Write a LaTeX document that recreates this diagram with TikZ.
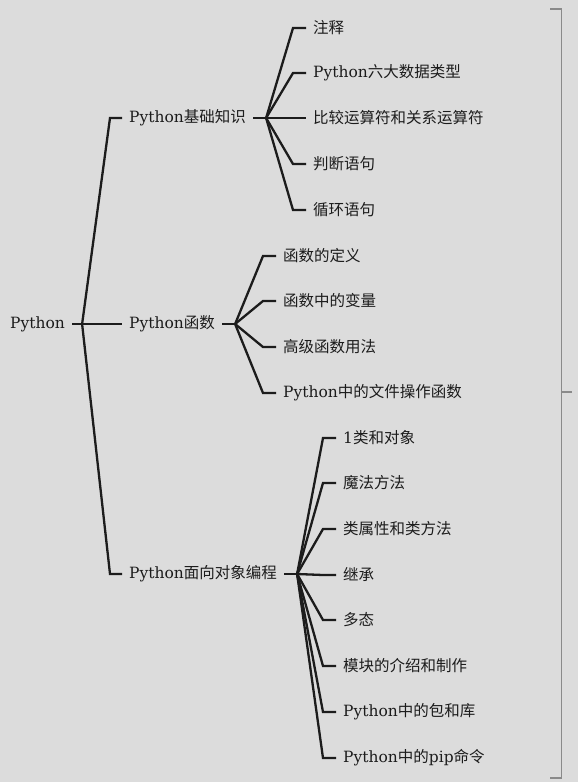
\documentclass[tikz,border=0pt]{standalone}
\usepackage{fontspec}
\setmainfont{Noto Sans CJK SC}
\newfontfamily\latin{DejaVu Serif}
\newcommand{\py}{{\latin Python}}
\definecolor{bg}{HTML}{DCDCDC}
\definecolor{ink}{HTML}{1C1C1C}
\definecolor{rim}{HTML}{8A8A8A}
\tikzset{
  topic/.style={anchor=west, inner xsep=7pt, inner ysep=2pt, text=ink, font=\fontsize{15.5}{18}\selectfont},
  branch/.style={draw=ink, line width=2.3pt},
}
\begin{document}
\begin{tikzpicture}[x=1pt,y=-1pt]
\fill[bg] (0,0) rectangle (578,782);
\useasboundingbox (0,0) rectangle (578,782);

\node[topic] (root) at (3,324) {\py};

\node[topic] (basic) at (122,118) {\py 基础知识};
\node[topic] (func) at (122,324) {\py 函数};
\node[topic] (oop) at (122,574) {\py 面向对象编程};

\node[topic] (note) at (306,28) {注释};
\node[topic] (types) at (306,73) {\py 六大数据类型};
\node[topic] (ops) at (306,118) {比较运算符和关系运算符};
\node[topic] (cond) at (306,164) {判断语句};
\node[topic] (loop) at (306,210) {循环语句};

\node[topic] (def) at (276,256) {函数的定义};
\node[topic] (var) at (276,301) {函数中的变量};
\node[topic] (adv) at (276,347) {高级函数用法};
\node[topic] (file) at (276,393) {\py 中的文件操作函数};

\node[topic] (cls) at (336,438) {{\latin 1}类和对象};
\node[topic] (magic) at (336,483) {魔法方法};
\node[topic] (attr) at (336,529) {类属性和类方法};
\node[topic] (inh) at (336,575) {继承};
\node[topic] (poly) at (336,620) {多态};
\node[topic] (mod) at (336,666) {模块的介绍和制作};
\node[topic] (pkg) at (336,712) {\py 中的包和库};
\node[topic] (pip) at (336,758) {\py 中的{\latin pip}命令};

% root
\draw[branch] (root.east) -- ++(10,0) coordinate (jr);
\draw[branch] (jr) -- ([xshift=-12pt]basic.west) -- (basic.west);
\draw[branch] (jr) -- ([xshift=-12pt]func.west) -- (func.west);
\draw[branch] (jr) -- ([xshift=-12pt]oop.west) -- (oop.west);

% basic
\draw[branch] (basic.east) -- ++(13,0) coordinate (jb);
\draw[branch] (jb) -- ([xshift=-13pt]note.west) -- (note.west);
\draw[branch] (jb) -- ([xshift=-13pt]types.west) -- (types.west);
\draw[branch] (jb) -- ([xshift=-13pt]ops.west) -- (ops.west);
\draw[branch] (jb) -- ([xshift=-13pt]cond.west) -- (cond.west);
\draw[branch] (jb) -- ([xshift=-13pt]loop.west) -- (loop.west);

% func
\draw[branch] (func.east) -- ++(13,0) coordinate (jf);
\draw[branch] (jf) -- ([xshift=-13pt]def.west) -- (def.west);
\draw[branch] (jf) -- ([xshift=-13pt]var.west) -- (var.west);
\draw[branch] (jf) -- ([xshift=-13pt]adv.west) -- (adv.west);
\draw[branch] (jf) -- ([xshift=-13pt]file.west) -- (file.west);

% oop
\draw[branch] (oop.east) -- ++(13,0) coordinate (jo);
\draw[branch] (jo) -- ([xshift=-13pt]cls.west) -- (cls.west);
\draw[branch] (jo) -- ([xshift=-13pt]magic.west) -- (magic.west);
\draw[branch] (jo) -- ([xshift=-13pt]attr.west) -- (attr.west);
\draw[branch] (jo) -- ([xshift=-13pt]inh.west) -- (inh.west);
\draw[branch] (jo) -- ([xshift=-13pt]poly.west) -- (poly.west);
\draw[branch] (jo) -- ([xshift=-13pt]mod.west) -- (mod.west);
\draw[branch] (jo) -- ([xshift=-13pt]pkg.west) -- (pkg.west);
\draw[branch] (jo) -- ([xshift=-13pt]pip.west) -- (pip.west);

% bracket
\draw[rim, line width=1.5pt] (550,9) -- (561.5,9) -- (561.5,778) -- (550,778);
\draw[rim, line width=1.5pt] (561.5,392) -- (572,392);
\end{tikzpicture}
\end{document}
